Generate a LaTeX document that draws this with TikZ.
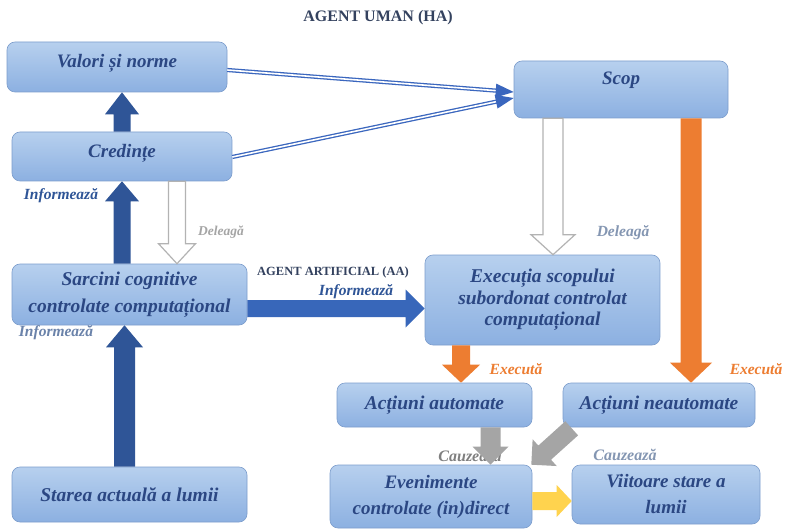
\documentclass[tikz,border=0pt]{standalone}
\usepackage{fontspec}
\setmainfont{Liberation Serif}
\usetikzlibrary{calc}
\definecolor{nodetxt}{HTML}{2B4783}
\definecolor{boxtop}{HTML}{B7D0EE}
\definecolor{boxbot}{HTML}{8CB0E1}
\definecolor{boxline}{HTML}{7C9DCC}
\definecolor{dkblue}{HTML}{2F5597}
\definecolor{mdblue}{HTML}{3867BA}
\definecolor{dblblue}{HTML}{3A66BE}
\definecolor{orng}{HTML}{ED7D31}
\definecolor{gry}{HTML}{A5A5A5}
\definecolor{gryline}{HTML}{B3B3B3}
\definecolor{ylw}{HTML}{FFD34E}
\definecolor{titlec}{HTML}{34425F}
\definecolor{grayblue}{HTML}{8496B2}
\definecolor{lblgray}{HTML}{7F7F7F}
\newcommand\blockarr[6]{% style, from, to, half shaft, half head, head length
  \coordinate (ba-h) at ($(#3)!#6!(#2)$);
  \path[#1] ($(#2)!#4!90:(#3)$) -- ($(ba-h)!#4!90:(#3)$) -- ($(ba-h)!#5!90:(#3)$) -- (#3)
    -- ($(ba-h)!#5!-90:(#3)$) -- ($(ba-h)!#4!-90:(#3)$) -- ($(#2)!#4!-90:(#3)$) -- cycle;}
\newcommand\headtri[4]{% from, to, half width, length
  \coordinate (ht-h) at ($(#2)!#4!(#1)$);
  \fill[dblblue] ($(ht-h)!#3!90:(#2)$) -- (#2) -- ($(ht-h)!#3!-90:(#2)$) -- cycle;}
\begin{document}
\begin{tikzpicture}[x=1pt,y=-1pt,
  box/.style={draw=boxline, line width=0.6pt, rounded corners=8pt, top color=boxtop, bottom color=boxbot,
    font=\bfseries\itshape\fontsize{19}{22}\selectfont, text=nodetxt, align=center, inner sep=2pt},
  lbl/.style={font=\bfseries\itshape\fontsize{15.5}{17}\selectfont, inner sep=0pt},
  dbl/.style={draw=dblblue, double=white, line width=1.3pt, double distance=1.6pt},
  darkarr/.style={fill=dkblue},
  medarr/.style={fill=mdblue},
  orarr/.style={fill=orng},
  grarr/.style={fill=gry},
  whitearr/.style={fill=white, draw=gryline, line width=1.2pt},
  yarr/.style={fill=ylw}]
\useasboundingbox (0,0) rectangle (786,529);
\fill[white] (0,0) rectangle (786,529);

% title
\node[font=\bfseries\fontsize{16}{18}\selectfont, text=titlec] (title) at (378,18) {AGENT UMAN (HA)};

% nodes
\node[box, minimum width=220pt, minimum height=50pt] (val) at (117,67) {\raisebox{4pt}[\height][\depth]{Valori și norme}};
\node[box, minimum width=220pt, minimum height=49pt] (cred) at (122,156.5) {\raisebox{3pt}[\height][\depth]{Credințe}};
\node[box, minimum width=235pt, minimum height=61pt, font=\bfseries\itshape\fontsize{19.5}{27}\selectfont] (sarc) at (129.5,294.5) {Sarcini cognitive\\controlate computațional};
\node[box, minimum width=235pt, minimum height=55pt, font=\bfseries\itshape\fontsize{19.5}{22}\selectfont] (star) at (129.5,494.5) {Starea actuală a lumii};
\node[box, minimum width=214pt, minimum height=57pt] (scop) at (621,89.5) {\raisebox{9pt}[\height][\depth]{Scop}};
\node[box, minimum width=235pt, minimum height=90pt, font=\bfseries\itshape\fontsize{19.5}{21.5}\selectfont] (exec) at (542.5,300) {Execuția scopului\\subordonat controlat\\computațional};
\node[box, minimum width=195pt, minimum height=44pt, font=\bfseries\itshape\fontsize{19.5}{22}\selectfont] (aut) at (434.5,405) {Acțiuni automate};
\node[box, minimum width=192pt, minimum height=44pt, font=\bfseries\itshape\fontsize{19.5}{22}\selectfont] (neaut) at (659,405) {Acțiuni neautomate};
\node[box, minimum width=202pt, minimum height=63pt, font=\bfseries\itshape\fontsize{19}{26}\selectfont] (even) at (431,496.5) {Evenimente\\controlate (in)direct};
\node[box, minimum width=188pt, minimum height=59pt, font=\bfseries\itshape\fontsize{19}{26}\selectfont] (viit) at (666,494.5) {Viitoare stare a\\lumii};

% arrow end points
\coordinate (a1s) at (cred.north);
\coordinate (a1e) at (cred.north |- val.south);
\coordinate (a2s) at (cred.south |- sarc.north);
\coordinate (a2e) at (cred.south);
\coordinate (a3s) at ($(star.north)+(-5,0)$);
\coordinate (a3e) at ($(sarc.south)+(-5,0)$);
\coordinate (a4s) at ($(cred.south)+(55,0)$);
\coordinate (a4e) at ($(sarc.north)+(47.5,0)$);
\coordinate (a5s) at ($(sarc.east)+(0,14)$);
\coordinate (a5e) at (exec.west |- a5s);
\coordinate (a6s) at ($(scop.south)+(-68,0)$);
\coordinate (a6e) at ($(exec.north)+(10.5,0)$);
\coordinate (a7s) at ($(scop.south)+(70,0)$);
\coordinate (a7e) at (a7s |- neaut.north);
\coordinate (a8s) at ($(exec.south)+(-81.5,0)$);
\coordinate (a8e) at (a8s |- aut.north);
\coordinate (a9s) at ($(aut.south)+(56,0)$);
\coordinate (a9e) at (a9s |- even.north);
\coordinate (a10s) at ($(neaut.south west)+(9,1)$);
\coordinate (a10e) at ($(even.north east)+(-1,0)$);
\coordinate (a11s) at ($(even.east)+(0,4.5)$);
\coordinate (a11e) at (viit.west |- a11s);
\coordinate (d1s) at ($(val.east)+(0,3)$);
\coordinate (d1e) at ($(scop.west)+(0,2.5)$);
\coordinate (d2s) at ($(cred.east)+(0,0.5)$);
\coordinate (d2e) at ($(scop.west)+(0,8.5)$);

% double line arrows into Scop
\draw[dbl, shorten >=16pt] (d1s) -- (d1e);
\headtri{d1s}{d1e}{7pt}{18pt}
\draw[dbl, shorten >=16pt] (d2s) -- (d2e);
\headtri{d2s}{d2e}{7pt}{18pt}

% block arrows
\blockarr{darkarr}{a1s}{a1e}{8.5pt}{17pt}{22pt}
\blockarr{darkarr}{a2s}{a2e}{8.5pt}{17pt}{20pt}
\blockarr{darkarr}{a3s}{a3e}{10.5pt}{18.5pt}{22pt}
\blockarr{whitearr}{a4s}{a4e}{8.5pt}{18.5pt}{20pt}
\blockarr{medarr}{a5s}{a5e}{8.5pt}{19pt}{19pt}
\blockarr{whitearr}{a6s}{a6e}{10pt}{22pt}{20pt}
\blockarr{orarr}{a7s}{a7e}{10.5pt}{21pt}{20pt}
\blockarr{orarr}{a8s}{a8e}{9pt}{19pt}{18pt}

% labels
\node[lbl, text=dkblue] (inf1) at (61,196) {Informează};
\node[lbl, text=gry, font=\bfseries\itshape\fontsize{13.5}{15}\selectfont] (del1) at (221,232) {Deleagă};
\node[font=\bfseries\fontsize{12.5}{14}\selectfont, text=titlec, inner sep=0pt] (aa) at (333,272) {AGENT ARTIFICIAL (AA)};
\node[lbl, text=dkblue] (inf2) at (356,292) {Informează};
\node[lbl, text=grayblue!70!dkblue] (inf3) at (56,333) {Informează};
\node[lbl, text=grayblue] (del2) at (623,233) {Deleagă};
\node[lbl, text=orng] (ex1) at (516,369) {Execută};
\node[lbl, text=orng] (ex2) at (756,369) {Execută};
\node[lbl, text=lblgray, font=\bfseries\itshape\fontsize{16}{18}\selectfont] (cz1) at (470,456) {Cauzează};
\node[lbl, text=grayblue, font=\bfseries\itshape\fontsize{16}{18}\selectfont] (cz2) at (625,455) {Cauzează};

% lower arrows (on top of the labels)
\blockarr{grarr}{a9s}{a9e}{10pt}{18pt}{18pt}
\blockarr{grarr}{a10s}{a10e}{9.5pt}{18pt}{18pt}
\blockarr{yarr}{a11s}{a11e}{9pt}{16pt}{15pt}
\end{tikzpicture}
\end{document}
